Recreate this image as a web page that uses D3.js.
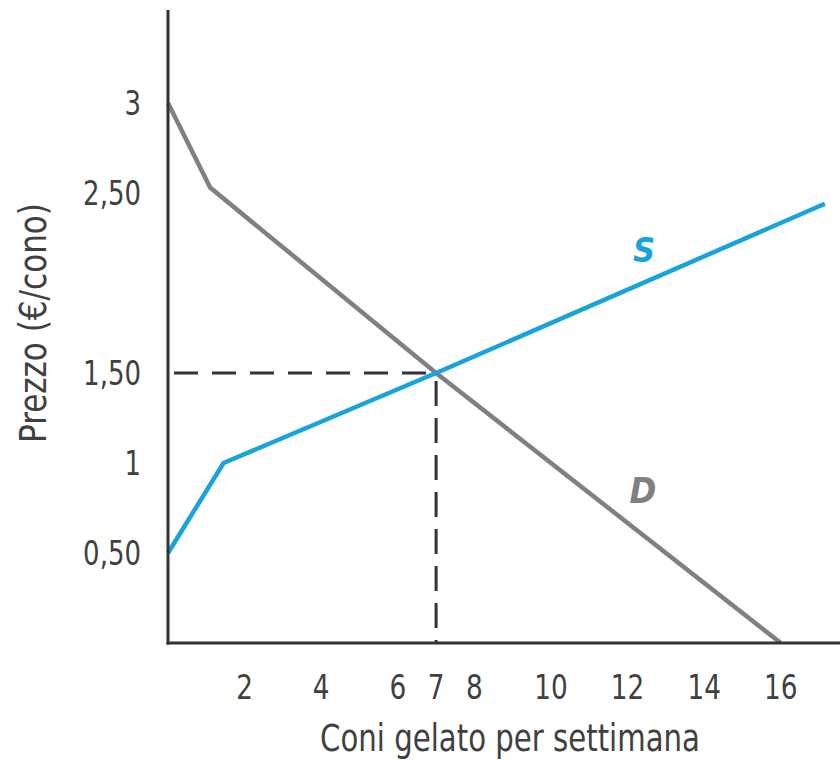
<!DOCTYPE html>
<html><head><meta charset="utf-8">
<script src="https://cdn.jsdelivr.net/npm/d3@7"></script>
<style>
html,body{margin:0;padding:0;background:#fff;}
svg text{font-family:"Liberation Sans Narrow","Arial Narrow","DejaVu Sans Condensed",sans-serif;}
</style></head>
<body><svg id="c" width="840" height="760"></svg>
<script>
const xTicks = [2, 4, 6, 7, 8, 10, 12, 14, 16];
const yTicks = [0.5, 1, 1.5, 2.5, 3];
const yTickLabels = ["0,50", "1", "1,50", "2,50", "3"];
const demandQ = [0, 1.1, 7, 16];
const demandP = [3, 2.53, 1.5, 0];
const supplyQ = [0, 1.45, 7, 17.15];
const supplyP = [0.5, 1.0, 1.5, 2.44];
const eqQ = 7, eqP = 1.5;

const svg = d3.select("#c");
const x = d3.scaleLinear().domain([0, 1]).range([168, 168 + 38.3]);
const y = d3.scaleLinear().domain([0, 1]).range([643, 643 - 180]);

const ink = "#404040";

function squeeze(sel, f) {
  sel.each(function () {
    const w = this.getComputedTextLength();
    d3.select(this).attr("textLength", w * f).attr("lengthAdjust", "spacingAndGlyphs");
  });
}

// dashed equilibrium guides
svg.append("line").attr("x1", x(0)).attr("x2", x(eqQ)).attr("y1", y(eqP)).attr("y2", y(eqP))
  .attr("stroke", "#333").attr("stroke-width", 3).attr("stroke-dasharray", "24,14").attr("stroke-dashoffset", -6);
svg.append("line").attr("x1", x(eqQ)).attr("x2", x(eqQ)).attr("y1", y(eqP) + 8).attr("y2", y(0))
  .attr("stroke", "#333").attr("stroke-width", 3).attr("stroke-dasharray", "25,12");

const line = d3.line().x(d => x(d[0])).y(d => y(d[1]));
svg.append("path").datum(demandQ.map((q, i) => [q, demandP[i]]))
  .attr("d", line).attr("fill", "none").attr("stroke", "#808080").attr("stroke-width", 4.5);
svg.append("path").datum(supplyQ.map((q, i) => [q, supplyP[i]]))
  .attr("d", line).attr("fill", "none").attr("stroke", "#19a3dc").attr("stroke-width", 4.5);

// axes lines
svg.append("line").attr("x1", x(0)).attr("x2", x(0)).attr("y1", 10).attr("y2", y(0) + 1.5)
  .attr("stroke", "#333").attr("stroke-width", 3);
svg.append("line").attr("x1", x(0) - 1.5).attr("x2", 840).attr("y1", y(0)).attr("y2", y(0))
  .attr("stroke", "#333").attr("stroke-width", 3);

// tick labels
const xt = svg.append("g").selectAll("text").data(xTicks).join("text")
  .attr("x", d => x(d)).attr("y", 699).attr("text-anchor", "middle")
  .attr("font-size", 34).attr("fill", ink).text(d => d);
squeeze(xt, 0.86);
const yt = svg.append("g").selectAll("text").data(yTicks).join("text")
  .attr("x", 141).attr("y", d => y(d) + 12).attr("text-anchor", "end")
  .attr("font-size", 34).attr("fill", ink).text((d, i) => yTickLabels[i]);
squeeze(yt, 0.85);

// axis titles
svg.append("text").attr("x", 510).attr("y", 751).attr("text-anchor", "middle")
  .attr("font-size", 37).attr("fill", ink)
  .attr("textLength", 380).attr("lengthAdjust", "spacingAndGlyphs").text("Coni gelato per settimana");
svg.append("text").attr("transform", "translate(46,323) rotate(-90)").attr("text-anchor", "middle")
  .attr("font-size", 37).attr("fill", ink)
  .attr("textLength", 240).attr("lengthAdjust", "spacingAndGlyphs").text("Prezzo (€/cono)");

// curve labels
svg.append("text").attr("x", 644).attr("y", 262).attr("text-anchor", "middle")
  .attr("font-size", 34).attr("font-weight", "bold").attr("font-style", "italic").attr("fill", "#19a3dc").text("S");
svg.append("text").attr("x", 643).attr("y", 503).attr("text-anchor", "middle")
  .attr("font-size", 36).attr("font-weight", "bold").attr("font-style", "italic").attr("fill", "#808080").text("D");
</script></body></html>
